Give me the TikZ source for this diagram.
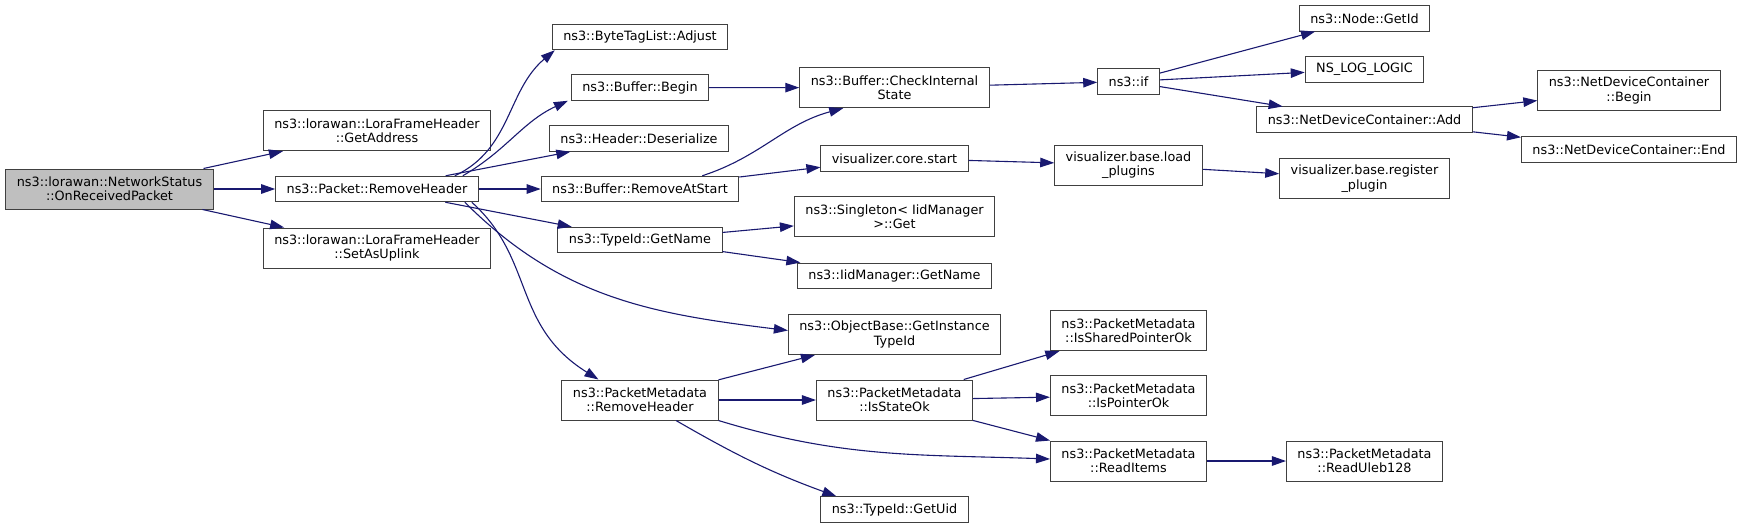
\documentclass[tikz,border=0pt]{standalone}
\usepackage{fontspec}
\setmainfont{DejaVu Sans}
\usetikzlibrary{arrows.meta}
\definecolor{edgeblue}{RGB}{25,25,112}
\definecolor{boxline}{RGB}{64,64,64}
\definecolor{rootfill}{RGB}{191,191,191}
\tikzset{
  >={Triangle[length=14pt,width=9.5pt]},
  fn/.style={draw=boxline,fill=white,line width=1pt,inner xsep=11pt,inner ysep=2pt,
    minimum height=25.5pt,align=center,font=\fontsize{12.8}{14.4}\selectfont},
  root/.style={fn,fill=rootfill},
  tall/.style={minimum height=40pt},
  call/.style={->,draw=edgeblue,line width=1.1pt},
}
\begin{document}
\begin{tikzpicture}[x=1pt,y=-1pt]
  \useasboundingbox (0,0) rectangle (1743,528);
  % caller and first level
  \node[root,tall] (rcv) at (109.5,189) {ns3::lorawan::NetworkStatus\\::OnReceivedPacket};
  \node[fn,tall] (getaddr) at (377,130.7) {ns3::lorawan::LoraFrameHeader\\::GetAddress};
  \node[fn] (prmh) at (377,189) {ns3::Packet::RemoveHeader};
  \node[fn,tall] (uplink) at (377,248) {ns3::lorawan::LoraFrameHeader\\::SetAsUplink};
  % second level
  \node[fn] (adjust) at (640,37) {ns3::ByteTagList::Adjust};
  \node[fn] (bbegin) at (640,87.5) {ns3::Buffer::Begin};
  \node[fn] (deser) at (639,138.5) {ns3::Header::Deserialize};
  \node[fn] (rmstart) at (640,189) {ns3::Buffer::RemoveAtStart};
  \node[fn] (tname) at (640,240) {ns3::TypeId::GetName};
  \node[fn,tall] (pmrmh) at (640,400) {ns3::PacketMetadata\\::RemoveHeader};
  % third level
  \node[fn,tall] (chk) at (894.5,87.7) {ns3::Buffer::CheckInternal\\State};
  \node[fn] (corestart) at (894.5,158.3) {visualizer.core.start};
  \node[fn,tall] (singleton) at (894.5,216.7) {ns3::Singleton< IidManager\\>::Get};
  \node[fn] (iidname) at (894.5,275.8) {ns3::IidManager::GetName};
  \node[fn,tall] (instid) at (894.5,334.5) {ns3::ObjectBase::GetInstance\\TypeId};
  \node[fn,tall] (stateok) at (894.5,400) {ns3::PacketMetadata\\::IsStateOk};
  \node[fn] (uid) at (894.5,509.5) {ns3::TypeId::GetUid};
  % fourth level
  \node[fn] (nsif) at (1128.5,81.5) {ns3::if};
  \node[fn,tall] (loadpl) at (1128.5,165) {visualizer.base.load\\\_plugins};
  \node[fn,tall] (shptr) at (1128.5,330.7) {ns3::PacketMetadata\\::IsSharedPointerOk};
  \node[fn,tall] (ptrok) at (1128.5,395.7) {ns3::PacketMetadata\\::IsPointerOk};
  \node[fn,tall] (readitems) at (1128.5,461) {ns3::PacketMetadata\\::ReadItems};
  % fifth and sixth level
  \node[fn] (getid) at (1364.5,18.3) {ns3::Node::GetId};
  \node[fn] (loglogic) at (1364.5,69.3) {NS\_LOG\_LOGIC};
  \node[fn] (ndcadd) at (1364.5,119.7) {ns3::NetDeviceContainer::Add};
  \node[fn,tall] (regpl) at (1364.5,178.7) {visualizer.base.register\\\_plugin};
  \node[fn,tall] (uleb) at (1364.5,461) {ns3::PacketMetadata\\::ReadUleb128};
  \node[fn,tall] (ndcbegin) at (1629,90.5) {ns3::NetDeviceContainer\\::Begin};
  \node[fn] (ndcend) at (1629,149.3) {ns3::NetDeviceContainer::End};

  % straight calls
  \foreach \a/\b in {rcv/getaddr,rcv/prmh,rcv/uplink,prmh/deser,prmh/rmstart,prmh/tname,
      bbegin/chk,rmstart/corestart,chk/nsif,nsif/getid,nsif/loglogic,nsif/ndcadd,
      ndcadd/ndcbegin,ndcadd/ndcend,corestart/loadpl,loadpl/regpl,tname/singleton,
      tname/iidname,pmrmh/instid,pmrmh/stateok,stateok/shptr,stateok/ptrok,
      stateok/readitems,readitems/uleb}
    \draw[call] (\a) -- (\b);
  % curved calls
  \draw[call] ([xshift=-24pt]prmh.north east) to[out=25,in=-140] ([xshift=3pt]adjust.south west);
  \draw[call] ([xshift=-16pt]prmh.north east) to[out=30,in=-155] ([xshift=-3pt]bbegin.south west);
  \draw[call] ([xshift=-14pt]prmh.south east) to[out=-45,in=173] ([yshift=4pt]instid.west);
  \draw[call] ([xshift=-7pt]prmh.south east) to[out=-42,in=148,in looseness=1.2] ([xshift=37pt]pmrmh.north west);
  \draw[call] ([xshift=-37pt]rmstart.north east) to[out=18,in=-165] ([xshift=44pt]chk.south west);
  \draw[call] (pmrmh.south east) to[out=-17,in=178] ([yshift=2pt]readitems.west);
  \draw[call] ([xshift=36pt]pmrmh.south) to[out=-30,in=160] ([xshift=16pt]uid.north west);
\end{tikzpicture}
\end{document}
